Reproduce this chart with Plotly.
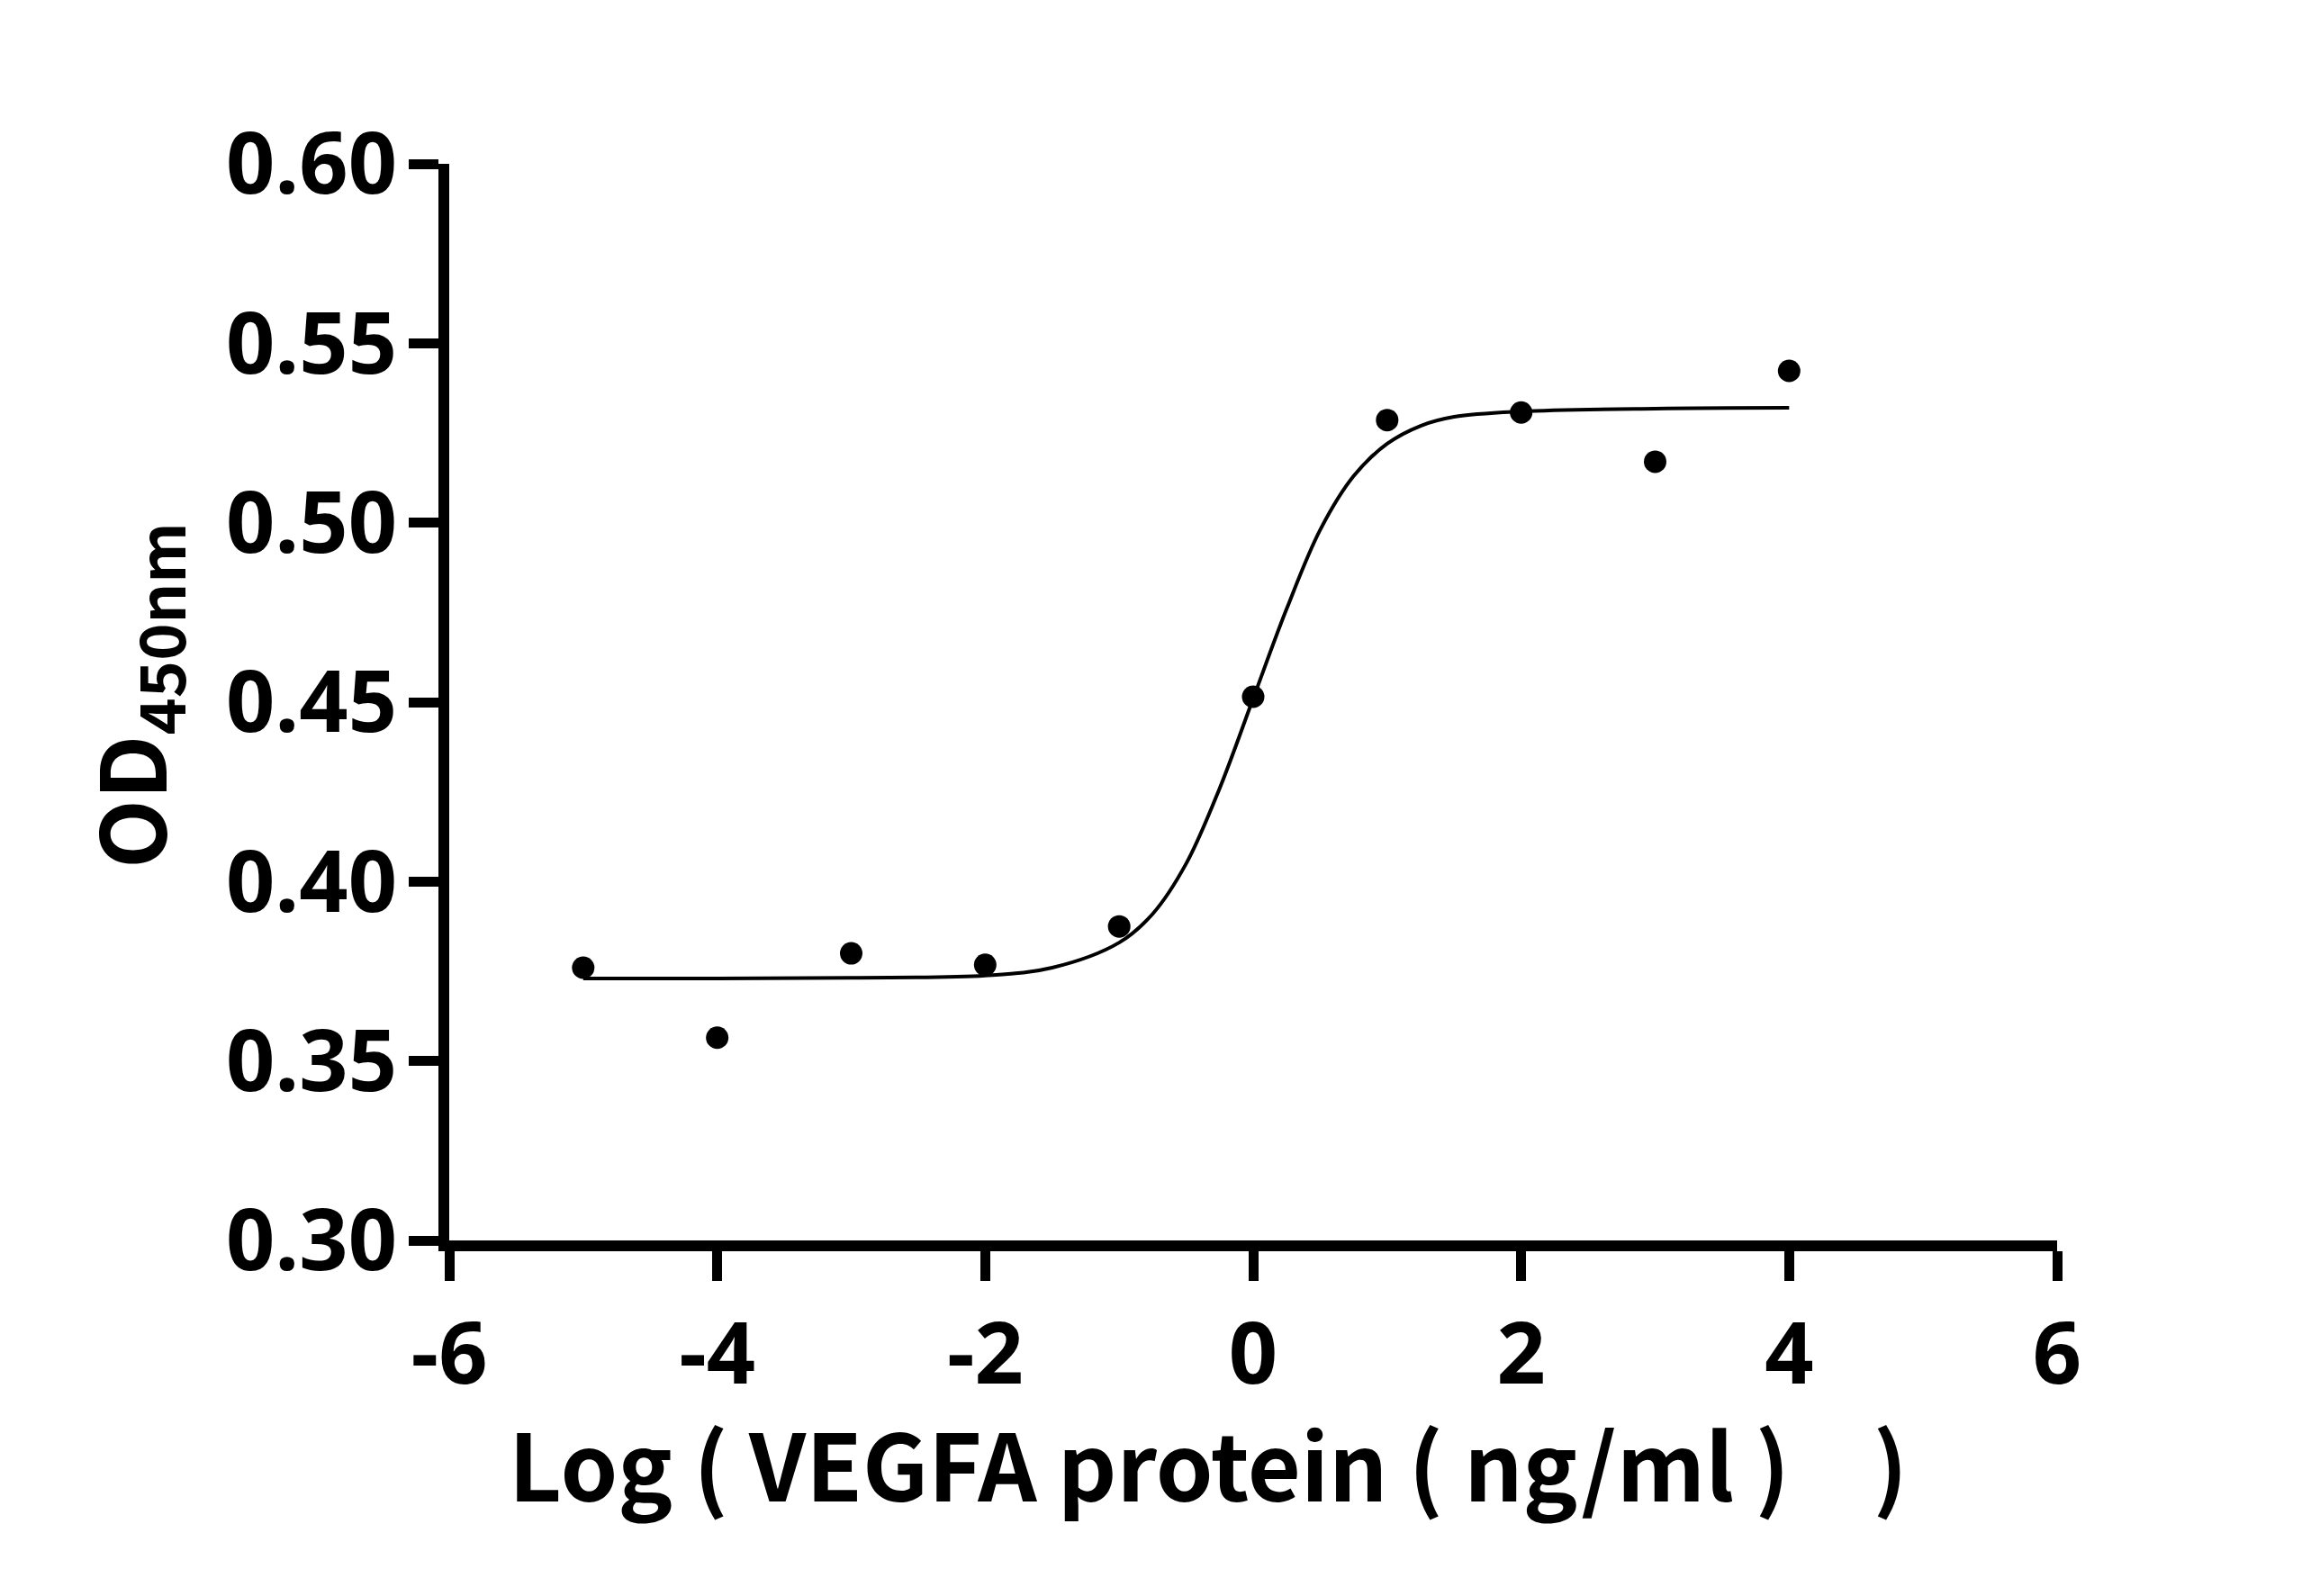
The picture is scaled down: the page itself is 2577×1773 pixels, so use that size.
import plotly.graph_objects as go

# measured points (log concentration vs OD450)
log_conc = [-5, -4, -3, -2, -1, 0, 1, 2, 3, 4]
od450 = [0.376, 0.3565, 0.380, 0.3768, 0.3875, 0.4515, 0.5286, 0.5307, 0.517, 0.5423]

# fitted curve
fit_x = [-5, -4, -3, -2, -1.5, -1, -0.75, -0.5, -0.25, 0, 0.25, 0.5, 0.75, 1, 1.25, 1.5, 2, 3, 4]
fit_y = [0.373, 0.373, 0.3732, 0.3738, 0.376, 0.383, 0.391, 0.405, 0.426, 0.451,
         0.476, 0.498, 0.513, 0.522, 0.527, 0.5295, 0.531, 0.5318, 0.532]

x_ticks = [-6, -4, -2, 0, 2, 4, 6]
x_labels = ["-6", "-4", "-2", "0", "2", "4", "6"]
y_ticks = [0.30, 0.35, 0.40, 0.45, 0.50, 0.55, 0.60]

FONT = "Noto Sans CJK SC"
TICK_FONT = "Open Sans"

fig = go.Figure()
fig.add_trace(go.Scatter(x=fit_x, y=fit_y, mode="lines", line=dict(color="black", width=4, shape="spline"),
                         showlegend=False, hoverinfo="skip"))
fig.add_trace(go.Scatter(x=log_conc, y=od450, mode="markers", marker=dict(color="black", size=25),
                         showlegend=False))

axis = dict(showline=True, linecolor="black", linewidth=12, ticks="outside", ticklen=33, tickwidth=11,
            tickcolor="black", showgrid=False, zeroline=False,
            tickfont=dict(family=TICK_FONT, size=95, color="black", weight="bold"))

fig.update_xaxes(range=[-6, 6], tickvals=x_ticks, ticktext=x_labels, ticklabelstandoff=0, **axis)
fig.update_yaxes(range=[0.30, 0.60], tickvals=y_ticks, tickformat=".2f", ticklabelstandoff=-6, **axis)

fig.add_annotation(text="Log ( VEGFA protein ( ng/ml )    )", xref="paper", yref="paper",
                   x=0.472, y=-0.205, showarrow=False, xanchor="center", yanchor="middle",
                   font=dict(family=FONT, size=102, color="black", weight="bold"))
fig.add_annotation(text="OD<sub>450nm</sub>", xref="paper", yref="paper", textangle=-90,
                   x=-0.1965, y=0.506, showarrow=False, xanchor="center", yanchor="middle",
                   font=dict(family=FONT, size=100, color="black", weight="bold"))

fig.update_layout(width=2577, height=1773, plot_bgcolor="white", paper_bgcolor="white",
                  margin=dict(l=491, r=300, t=174, b=403))
fig.write_html("out.html")
